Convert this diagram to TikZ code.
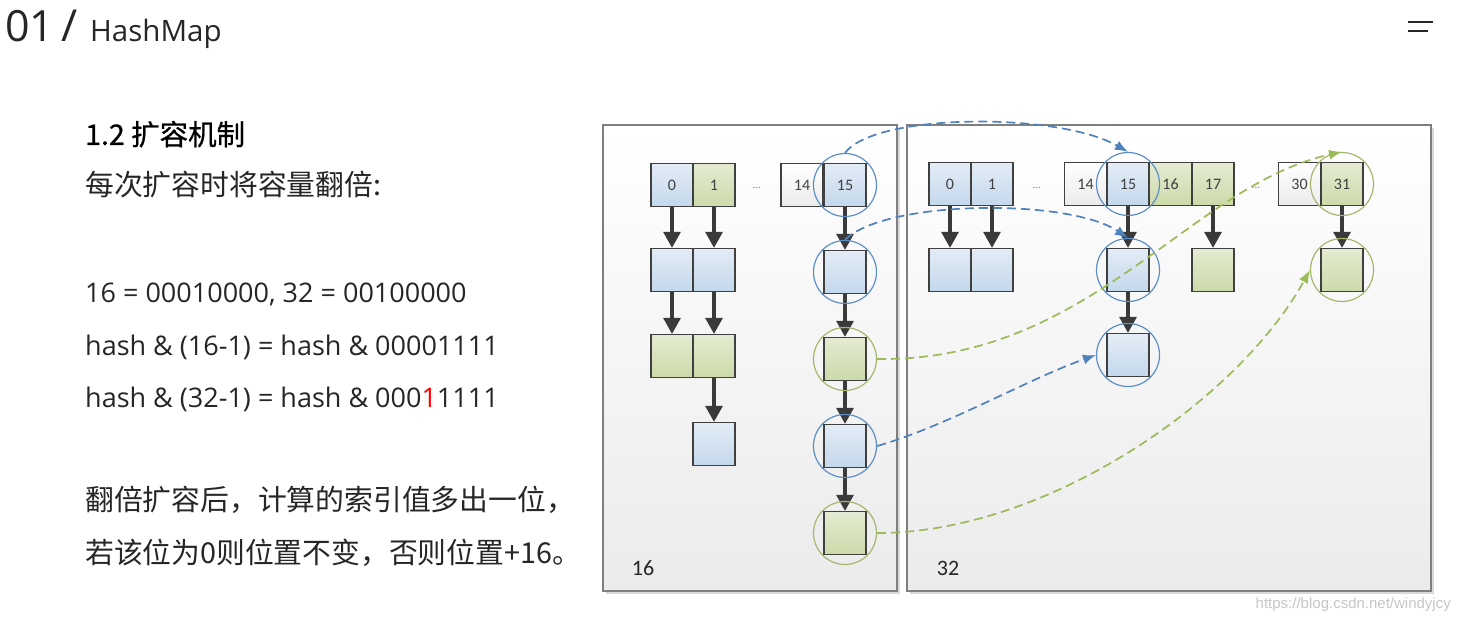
\documentclass[tikz,border=0pt]{standalone}
\usepackage{fontspec}
\setmainfont{Open Sans}
\newfontfamily\cjk{Noto Sans CJK SC}
\newfontfamily\cjkhead[FakeBold=0.7]{Noto Sans CJK SC}
\newfontfamily\cellfont{Carlito}
\newfontfamily\urlfont{Liberation Sans}
\usetikzlibrary{arrows.meta}

\definecolor{ink}{HTML}{262626}
\definecolor{boxline}{HTML}{404040}
\definecolor{linkgray}{HTML}{3A3A3A}
\definecolor{cellblueA}{HTML}{E3ECF6}
\definecolor{cellblueB}{HTML}{C4D8EC}
\definecolor{cellgreenA}{HTML}{E4EBD2}
\definecolor{cellgreenB}{HTML}{CCDAA9}
\definecolor{panelline}{HTML}{7F7F7F}
\definecolor{panelB}{HTML}{EBEBEB}
\definecolor{ringblue}{HTML}{5B8EC6}
\definecolor{ringgreen}{HTML}{A3B86C}
\definecolor{moveblue}{HTML}{4F81BD}
\definecolor{movegreen}{HTML}{9BBB59}

\tikzset{
  txt/.style={anchor=base west,inner sep=0pt,text=ink,font=\fontsize{27}{32}\selectfont},
  cjktxt/.style={txt,font=\cjk\fontsize{28.8}{34}\selectfont},
  cell/.style={draw=boxline,line width=1.3pt,minimum width=42pt,minimum height=43pt,inner sep=0pt,
    text=boxline,font=\cellfont\fontsize{16}{16}\selectfont},
  bcell/.style={cell,top color=cellblueA,bottom color=cellblueB},
  gcell/.style={cell,top color=cellgreenA,bottom color=cellgreenB},
  wcell/.style={cell,top color=white,bottom color=panelB},
  dots/.style={inner sep=0pt,text=gray,font=\cellfont\fontsize{11}{11}\selectfont},
  link/.style={line width=3.2pt,draw=linkgray,-{Triangle[length=16pt,width=17pt]}},
  ringb/.style={circle,draw=ringblue,line width=1.2pt,minimum size=63pt,inner sep=0pt},
  ringg/.style={ringb,draw=ringgreen},
  moveb/.style={draw=moveblue,line width=1.7pt,dash pattern=on 9pt off 5pt,
    -{Latex[length=13pt,width=10pt]}},
  moveg/.style={moveb,draw=movegreen},
  plabel/.style={inner sep=0pt,text=ink,font=\cellfont\fontsize{22}{22}\selectfont}
}

\begin{document}
\begin{tikzpicture}[x=1pt,y=-1pt]
\useasboundingbox (0,0) rectangle (1459,620);
%\draw[thin,gray] (0,0) grid[step=50] (1459,620);

% header
\node[anchor=base west,inner sep=0pt,text=ink,font=\fontsize{43}{43}\selectfont] (num) at (5,42) {01};
\node[anchor=base west,inner sep=0pt,text=ink,font=\fontsize{44}{44}\selectfont] (sl) at (61,42) {/};
\node[anchor=base west,inner sep=0pt,text=ink,font=\fontsize{29.5}{30}\selectfont] (ttl) at (90,42) {HashMap};
\draw[line width=2pt,ink] (1408,22) -- (1433,22);
\draw[line width=2pt,ink] (1408,31) -- (1428,31);

% text
\node[txt,font=\cjkhead\fontsize{28.5}{34}\selectfont,text=black] (h12) at (85,145) {1.2 扩容机制};
\node[cjktxt] (t1) at (85,196) {每次扩容时将容量翻倍:};
\node[txt] (t2) at (85,303) {16 = 00010000, 32 = 00100000};
\node[txt] (t3) at (85,355) {hash \& (16-1) = hash \& 00001111};
\node[txt] (t4) at (85,407) {hash \& (32-1) = hash \& 000\textcolor{red}{1}1111};
\node[cjktxt] (t5) at (85,510) {翻倍扩容后，计算的索引值多出一位，};
\node[cjktxt] (t6) at (85,563) {若该位为0则位置不变，否则位置+16。};

% panels
\fill[gray!30] (606,128) rectangle (900,594);
\shadedraw[top color=white,bottom color=panelB,draw=panelline,line width=1.5pt] (603,125) rectangle (897,591);
\fill[gray!30] (910,128) rectangle (1434,594);
\shadedraw[top color=white,bottom color=panelB,draw=panelline,line width=1.5pt] (907,125) rectangle (1431,591);
\node[plabel] (l16) at (643,568) {16};
\node[plabel] (l32) at (948,568) {32};

% old table
\node[bcell] (o0) at (672,185) {0};
\node[gcell] (o1) at (714,185) {1};
\node[dots] (od) at (757,188) {...};
\node[wcell] (o14) at (802,185) {14};
\node[bcell] (o15) at (845,185) {15};
\node[bcell] (o0a) at (672,270) {};
\node[bcell] (o1a) at (714,270) {};
\node[gcell] (o0b) at (672,356) {};
\node[gcell] (o1b) at (714,356) {};
\node[bcell] (o1c) at (714,444) {};
\node[bcell] (k1) at (845,272) {};
\node[gcell] (k2) at (845,359) {};
\node[bcell] (k3) at (845,446) {};
\node[gcell] (k4) at (845,533) {};

% new table
\node[bcell] (n0) at (950,184) {0};
\node[bcell] (n1) at (992,184) {1};
\node[dots] (nd) at (1037,188) {...};
\node[wcell] (n14) at (1085.5,184) {14};
\node[bcell] (n15) at (1128,184) {15};
\node[gcell] (n16) at (1170.5,184) {16};
\node[gcell] (n17) at (1213,184) {17};
\node[dots] (ne) at (1256,188) {...};
\node[wcell] (n30) at (1299.5,184) {30};
\node[gcell] (n31) at (1342,184) {31};
\node[bcell] (n0a) at (950,270) {};
\node[bcell] (n1a) at (992,270) {};
\node[bcell] (m1) at (1128,270) {};
\node[bcell] (m2) at (1128,355) {};
\node[gcell] (n17a) at (1213,270) {};
\node[gcell] (m3) at (1342,270) {};

\foreach \a/\b in {o0/o0a,o0a/o0b,o1/o1a,o1a/o1b,o1b/o1c,o15/k1,k1/k2,k2/k3,k3/k4,
  n0/n0a,n1/n1a,n15/m1,m1/m2,n17/n17a,n31/m3}
  \draw[link] (\a.south) -- (\b.north);

% rings
\node[ringb] (r15) at (o15) {};
\node[ringb] (rk1) at (k1) {};
\node[ringg] (rk2) at (k2) {};
\node[ringb] (rk3) at (k3) {};
\node[ringg] (rk4) at (k4) {};
\node[ringb] (s15) at (n15) {};
\node[ringb] (sm1) at (m1) {};
\node[ringb] (sm2) at (m2) {};
\node[ringg] (s31) at (n31) {};
\node[ringg] (sm3) at (m3) {};

\draw[moveb] (r15.north) .. controls +(30,-40) and +(-70,-40) .. (s15.north);
\draw[moveb] (rk1.north) .. controls +(40,-40) and +(-60,-40) .. (sm1.north);
\draw[moveg] (rk2.east) .. controls +(213,3) and +(-152,33) .. (s31.north);
\draw[moveb] (rk3.east) .. controls +(70,-20) and +(-70,25) .. (sm2.west);
\draw[moveg] (rk4.east) .. controls +(172,0) and +(-70,128) .. (sm3.west);

\node[anchor=base east,inner sep=0pt,text=gray!45,font=\urlfont\fontsize{15}{15}\selectfont] (wm) at (1451,608) {https://blog.csdn.net/windyjcy};
\end{tikzpicture}
\end{document}
